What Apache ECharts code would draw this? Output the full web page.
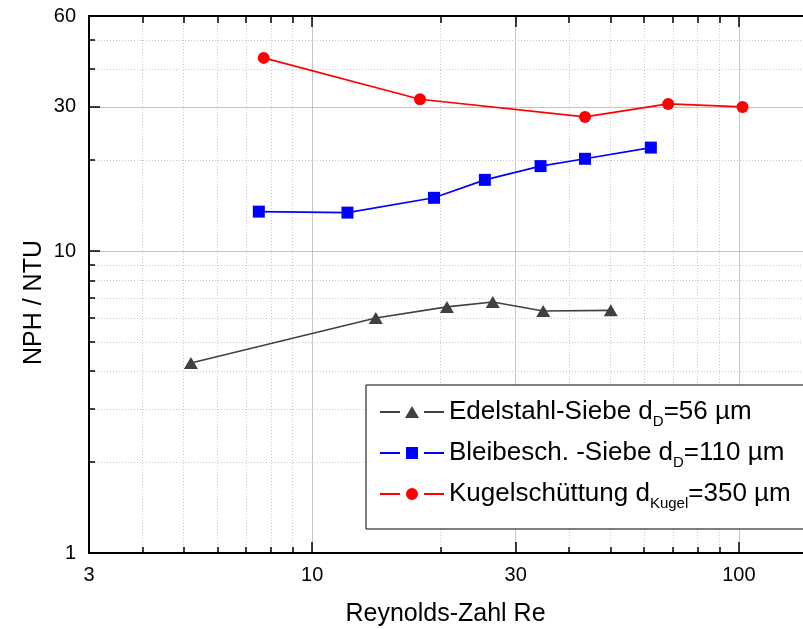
<!DOCTYPE html>
<html>
<head>
<meta charset="utf-8">
<script src="https://cdn.jsdelivr.net/npm/echarts@6/dist/echarts.min.js"></script>
<style>
  html, body { margin: 0; padding: 0; background: #ffffff; }
  #chart { width: 803px; height: 629px; }
</style>
</head>
<body>
<div id="chart"></div>
<script>
// Measured NPH/NTU against Reynolds number for three filter media
const reEdelstahl  = [5.2, 14.1, 20.7, 26.5, 34.8, 50.1];
const nphEdelstahl = [4.26, 6.0, 6.53, 6.78, 6.33, 6.36];

const reBlei  = [7.5, 12.1, 19.3, 25.4, 34.3, 43.6, 62.2];
const nphBlei = [13.5, 13.4, 15.0, 17.2, 19.1, 20.2, 22.0];

const reKugel  = [7.7, 17.9, 43.6, 68.3, 102];
const nphKugel = [43.6, 31.8, 27.8, 30.7, 30.0];

// Axis ranges and tick positions (logarithmic axes)
const X_MIN = 3, X_MAX = 150;
const Y_MIN = 1, Y_MAX = 60;
const xMajorTicks = [3, 10, 30, 100];
const xMinorTicks = [4, 5, 6, 7, 8, 9, 20, 40, 50, 60, 70, 80, 90];
const yMajorTicks = [1, 10, 30, 60];
const yMinorTicks = [2, 3, 4, 5, 6, 7, 8, 9, 20, 40, 50];

const legendLabels = {
  Edelstahl: 'Edelstahl-Siebe d{sub|D}=56 µm',
  Bleibesch: 'Bleibesch. -Siebe d{sub|D}=110 µm',
  Kugel: 'Kugelschüttung d{sub|Kugel}=350 µm'
};

const FONT = 'Liberation Sans, Arial, Helvetica, sans-serif';
const GRAY = '#404040', BLUE = '#0000ff', RED = '#ff0000';

function pairs(xs, ys) { return xs.map((x, i) => [x, ys[i]]); }

// Legend icons: line segment, marker, line segment (64 x 12 box)
const ICON_LINES = 'M0,5H20V7H0Z M44,5H64V7H44Z ';
const iconTriangle = 'path://' + ICON_LINES + 'M32,0L39,12L25,12Z';
const iconSquare   = 'path://' + ICON_LINES + 'M26,0H38V12H26Z';
const iconCircle   = 'path://' + ICON_LINES + 'M26,6A6,6 0 1,1 38,6A6,6 0 1,1 26,6Z';

const axisBlack = { show: true, onZero: false, lineStyle: { color: '#000', width: 2 } };
const tickStyle = { color: '#000', width: 1.5 };
const solidGrid = { show: true, lineStyle: { color: '#c4c4c4', width: 1, type: 'solid' } };
const dottedGrid = { show: true, lineStyle: { color: '#c8c8c8', width: 1, type: [1, 2] } };

function xLog(extra) {
  return Object.assign({ type: 'log', logBase: 10, min: X_MIN, max: X_MAX, gridIndex: 0 }, extra);
}
function yLog(extra) {
  return Object.assign({ type: 'log', logBase: 10, min: Y_MIN, max: Y_MAX, gridIndex: 0 }, extra);
}

const chart = echarts.init(document.getElementById('chart'), null, { renderer: 'canvas' });

chart.setOption({
  animation: false,
  backgroundColor: '#ffffff',
  textStyle: { fontFamily: FONT },
  grid: { left: 89, top: 16, width: 725, height: 537, containLabel: false, outerBoundsMode: 'none' },
  xAxis: [
    xLog({
      position: 'bottom',
      name: 'Reynolds-Zahl Re',
      nameLocation: 'middle',
      nameGap: 49,
      nameMoveOverlap: false,
      nameTextStyle: { fontSize: 25, color: '#000', fontFamily: FONT, padding: [0, 12, 0, 0] },
      axisLine: axisBlack,
      axisTick: { show: true, inside: true, length: 11, customValues: xMajorTicks, lineStyle: tickStyle },
      axisLabel: { show: true, customValues: xMajorTicks, fontSize: 20, color: '#000', margin: 12, fontFamily: FONT },
      splitLine: solidGrid,
      minorTick: { show: false }
    }),
    xLog({
      position: 'bottom',
      axisLine: { show: false, onZero: false },
      axisTick: { show: true, inside: true, length: 6, customValues: xMinorTicks, lineStyle: tickStyle },
      axisLabel: { show: false },
      splitLine: dottedGrid
    }),
    xLog({
      position: 'top',
      axisLine: axisBlack,
      axisTick: { show: true, inside: true, length: 11, customValues: xMajorTicks, lineStyle: tickStyle },
      axisLabel: { show: false },
      splitLine: { show: false }
    }),
    xLog({
      position: 'top',
      axisLine: { show: false, onZero: false },
      axisTick: { show: true, inside: true, length: 7, customValues: xMinorTicks, lineStyle: tickStyle },
      axisLabel: { show: false },
      splitLine: { show: false }
    })
  ],
  yAxis: [
    yLog({
      position: 'left',
      name: 'NPH / NTU',
      nameLocation: 'middle',
      nameGap: 42,
      nameMoveOverlap: false,
      nameTextStyle: { fontSize: 25, color: '#000', fontFamily: FONT, padding: [0, 36, 0, 0] },
      axisLine: axisBlack,
      axisTick: { show: true, inside: true, length: 11, customValues: yMajorTicks, lineStyle: tickStyle },
      axisLabel: { show: true, customValues: yMajorTicks, fontSize: 20, color: '#000', margin: 13, fontFamily: FONT },
      splitLine: solidGrid
    }),
    yLog({
      position: 'left',
      axisLine: { show: false, onZero: false },
      axisTick: { show: true, inside: true, length: 6, customValues: yMinorTicks, lineStyle: tickStyle },
      axisLabel: { show: false },
      splitLine: dottedGrid
    }),
    yLog({
      position: 'right',
      axisLine: axisBlack,
      axisTick: { show: true, inside: true, length: 11, customValues: yMajorTicks, lineStyle: tickStyle },
      axisLabel: { show: false },
      splitLine: { show: false }
    })
  ],
  legend: {
    orient: 'vertical',
    left: 366,
    top: 385,
    padding: [10, 80, 18, 14],
    itemGap: 7,
    itemWidth: 64,
    itemHeight: 12,
    backgroundColor: '#ffffff',
    borderColor: '#000000',
    borderWidth: 1,
    borderRadius: 0,
    selectedMode: false,
    data: [
      { name: 'Edelstahl', icon: iconTriangle, itemStyle: { color: GRAY, borderWidth: 0 } },
      { name: 'Bleibesch', icon: iconSquare, itemStyle: { color: BLUE, borderWidth: 0 } },
      { name: 'Kugel', icon: iconCircle, itemStyle: { color: RED, borderWidth: 0 } }
    ],
    formatter: name => legendLabels[name],
    textStyle: {
      fontSize: 26,
      lineHeight: 34,
      color: '#000',
      fontFamily: FONT,
      rich: {
        sub: { fontSize: 15, lineHeight: 13, verticalAlign: 'bottom', color: '#000', fontFamily: FONT }
      }
    }
  },
  series: [
    {
      name: 'Edelstahl', type: 'line', xAxisIndex: 0, yAxisIndex: 0,
      data: pairs(reEdelstahl, nphEdelstahl),
      symbol: 'triangle', symbolSize: [14, 12],
      itemStyle: { color: GRAY, borderWidth: 0 },
      lineStyle: { color: GRAY, width: 1.6 },
      z: 3
    },
    {
      name: 'Bleibesch', type: 'line', xAxisIndex: 0, yAxisIndex: 0,
      data: pairs(reBlei, nphBlei),
      symbol: 'rect', symbolSize: 12,
      itemStyle: { color: BLUE, borderWidth: 0 },
      lineStyle: { color: BLUE, width: 1.6 },
      z: 3
    },
    {
      name: 'Kugel', type: 'line', xAxisIndex: 0, yAxisIndex: 0,
      data: pairs(reKugel, nphKugel),
      symbol: 'circle', symbolSize: 12,
      itemStyle: { color: RED, borderWidth: 0 },
      lineStyle: { color: RED, width: 1.6 },
      z: 3
    }
  ]
});
</script>
</body>
</html>
